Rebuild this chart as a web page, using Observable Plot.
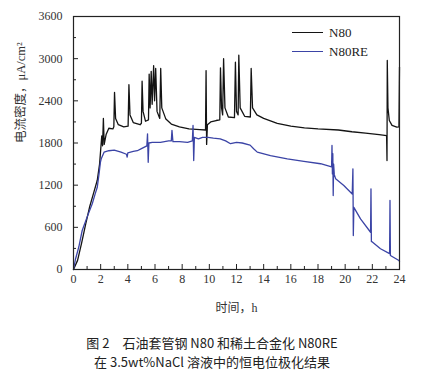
<!DOCTYPE html>
<html><head><meta charset="utf-8">
<script src="https://cdn.jsdelivr.net/npm/d3@7"></script>
<script src="https://cdn.jsdelivr.net/npm/@observablehq/plot@0.6"></script>
<style>
body{margin:0;background:#fff;}
#wrap{position:relative;width:424px;height:379px;overflow:hidden;}
#legend{position:absolute;left:292px;top:23px;font-family:"Liberation Serif",serif;font-size:13px;color:#222;}
.row{height:19px;display:flex;align-items:center;}
.sw{width:31px;height:0;border-top:1.6px solid;margin-right:6px;}
#cap{position:absolute;top:333px;left:0;width:424px;text-align:center;font-family:"Noto Sans CJK SC",sans-serif;font-size:13px;line-height:19px;color:#222;}
#chart svg text{font-family:"Liberation Serif","Noto Sans CJK SC",serif;}
</style></head><body>
<div id="wrap"><div id="chart"></div><div id="legend"></div><div id="cap"></div></div>
<script>
const seriesNames = ["N80", "N80RE"];
const seriesColors = ["#141414", "#3b44a6"];
const xTitle = "时间，h";
const yTitle = "电流密度，μA/cm²";
const captionLines = ["图 2　石油套管钢 N80 和稀土合金化 N80RE", "在 3.5wt%NaCl 溶液中的恒电位极化结果"];
const xMajor = [0, 2, 4, 6, 8, 10, 12, 14, 16, 18, 20, 22, 24];
const xMinor = [1, 3, 5, 7, 9, 11, 13, 15, 17, 19, 21, 23];
const yMajor = [0, 600, 1200, 1800, 2400, 3000, 3600];
const yMinor = [300, 900, 1500, 2100, 2700, 3300];

const n80Hours = [0,0.3,0.6,0.9,1.2,1.5,1.75,1.92,2.0,2.08,2.14,2.2,2.26,2.4,2.6,2.9,2.97,3.02,3.1,3.3,3.7,4.02,4.08,4.16,4.4,4.9,5.0,5.05,5.12,5.3,5.52,5.57,5.64,5.72,5.79,5.9,5.97,6.05,6.15,6.35,6.42,6.5,6.8,7.2,7.8,8.5,9.3,9.72,9.76,9.8,9.86,10.1,10.5,10.77,10.82,10.9,10.98,11.05,11.15,11.4,11.85,11.92,12.0,12.12,12.17,12.27,12.6,13.02,13.08,13.18,13.5,14.0,15.0,16.0,17.0,18.0,19.5,20.5,21.5,22.5,23.05,23.08,23.1,23.15,23.25,23.45,23.8,23.96,24.0];
const n80Values = [0,130,380,650,900,1100,1270,1500,1700,1900,1760,2150,1780,1920,2010,2000,2030,2520,2150,2060,2030,2040,2630,2200,2090,2060,2080,2680,2250,2110,2130,2780,2300,2820,2350,2900,2400,2860,2250,2150,2860,2300,2140,2070,2030,2000,1990,1985,2830,1780,2060,2100,2120,2130,2870,2300,2200,3000,2300,2170,2160,2950,2250,2200,3050,2300,2180,2170,2860,2300,2200,2150,2080,2040,2015,2000,1985,1960,1940,1920,1905,1550,2975,2300,2120,2050,2025,2030,2880];

const reHours = [0,0.15,0.39,0.64,1.0,1.38,1.6,1.75,1.88,1.98,2.05,2.25,2.6,3.0,3.5,3.9,3.95,4.0,4.4,4.7,5.0,5.4,5.45,5.5,5.55,5.8,6.4,7.0,7.2,7.25,7.32,7.8,8.4,8.75,8.8,8.85,8.9,9.2,9.5,9.9,10.3,10.8,11.2,11.56,12.0,12.42,13.0,13.28,13.53,14.5,15.74,16.96,18.19,19.0,19.03,19.06,19.09,19.12,19.15,19.2,19.3,19.9,20.52,20.57,20.6,20.64,21.13,21.87,21.9,21.93,22.0,22.6,23.27,23.3,23.33,23.96,24.0];
const reValues = [0,150,320,555,745,935,1080,1170,1360,1525,1580,1670,1690,1700,1670,1640,1600,1660,1680,1690,1720,1760,1930,1525,1800,1810,1810,1830,1830,1980,1820,1820,1810,1830,2050,1550,1880,1860,1880,1880,1870,1860,1830,1790,1810,1800,1770,1715,1670,1620,1575,1540,1505,1460,1765,1360,1650,1053,1500,1350,1290,1195,1075,1433,484,885,720,530,1148,400,390,295,225,982,200,128,115];

const rows = [
  ...n80Hours.map((t, i) => ({series: seriesNames[0], t, v: n80Values[i]})),
  ...reHours.map((t, i) => ({series: seriesNames[1], t, v: reValues[i]}))
];

const serif = "Liberation Serif, Noto Sans CJK SC, serif";
const fmt = d => String(d);
const chart = Plot.plot({
  width: 424, height: 322,
  marginTop: 16, marginRight: 25, marginBottom: 53, marginLeft: 73,
  style: {fontFamily: serif, fontSize: "12px", color: "#333", background: "#fff"},
  x: {domain: [0, 24], label: null},
  y: {domain: [0, 3600], label: null},
  color: {domain: seriesNames, range: seriesColors},
  marks: [
    Plot.axisX(xMinor, {tickSize: -3, tickFormat: () => "", label: null, stroke: "#222"}),
    Plot.axisX(xMajor, {tickSize: -5, tickPadding: 10, tickFormat: fmt, label: null, stroke: "#222", fill: "#333", fontFamily: serif, fontSize: 12}),
    Plot.axisY(yMinor, {tickSize: -3, tickFormat: () => "", label: null, stroke: "#222"}),
    Plot.axisY(yMajor, {tickSize: -5, tickPadding: 16, tickFormat: fmt, label: null, stroke: "#222", fill: "#333", fontFamily: serif, fontSize: 12}),
    Plot.line(rows, {x: "t", y: "v", z: "series", stroke: "series", strokeWidth: 1.3}),
    Plot.frame({stroke: "#222", strokeWidth: 1.2}),
    Plot.text([xTitle], {frameAnchor: "bottom", dy: 42, text: d => d, fontSize: 12, fill: "#333", fontFamily: serif}),
    Plot.text([yTitle], {frameAnchor: "left", dx: -53, rotate: -90, text: d => d, fontSize: 12.5, fill: "#333", fontFamily: serif})
  ]
});
document.getElementById("chart").appendChild(chart);

const legend = document.getElementById("legend");
seriesNames.forEach((name, i) => {
  const row = document.createElement("div");
  row.className = "row";
  const sw = document.createElement("span");
  sw.className = "sw";
  sw.style.borderTopColor = seriesColors[i];
  const label = document.createElement("span");
  label.textContent = name;
  row.appendChild(sw); row.appendChild(label);
  legend.appendChild(row);
});
const cap = document.getElementById("cap");
captionLines.forEach(l => { const d = document.createElement("div"); d.textContent = l; cap.appendChild(d); });
</script>
</body></html>
